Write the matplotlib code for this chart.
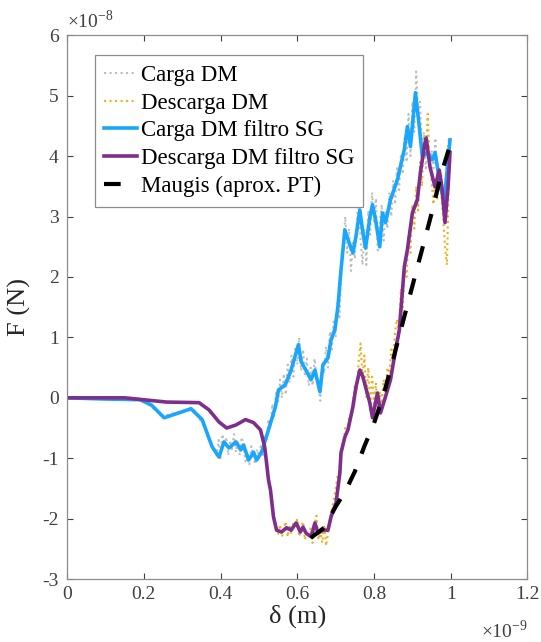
import matplotlib
matplotlib.use('Agg')
import matplotlib.pyplot as plt
import numpy as np

plt.rcParams['font.family'] = ['Liberation Serif', 'DejaVu Serif']
plt.rcParams['axes.unicode_minus'] = False
plt.rcParams['mathtext.fontset'] = 'custom'
plt.rcParams['mathtext.rm'] = 'Liberation Serif'

# delta in units of 1e-9 m, force in units of 1e-8 N
carga_sg_x = [0.0, 0.10, 0.19, 0.22, 0.253, 0.30, 0.323, 0.352, 0.378, 0.396, 0.409, 0.422, 0.44,
              0.453, 0.46, 0.473, 0.486, 0.494, 0.507, 0.525, 0.543, 0.551, 0.569, 0.584, 0.603,
              0.610, 0.636, 0.646, 0.659, 0.667, 0.680, 0.688, 0.698, 0.706, 0.714, 0.724, 0.732,
              0.745, 0.753, 0.763, 0.771, 0.778, 0.789, 0.796, 0.804, 0.815, 0.822, 0.830, 0.843,
              0.861, 0.879, 0.887, 0.895, 0.908, 0.918, 0.926, 0.939, 0.952, 0.959, 0.972, 0.983,
              0.990, 0.998]
carga_sg_y = [0.0, -0.02, -0.03, -0.12, -0.33, -0.23, -0.18, -0.36, -0.81, -0.98, -0.73, -0.83, -0.73,
              -0.86, -0.78, -1.03, -0.90, -1.03, -0.90, -0.53, -0.15, 0.13, 0.22, 0.46, 0.88,
              0.60, 0.30, 0.46, 0.10, 0.55, 0.66, 0.96, 1.13, 1.51, 2.12, 2.78, 2.62,
              2.40, 2.67, 3.11, 2.73, 2.48, 2.98, 3.20, 2.95, 2.50, 3.06, 2.90, 3.28,
              3.61, 4.11, 4.49, 4.16, 5.05, 4.49, 3.99, 4.06, 3.94, 4.06, 3.56, 3.23,
              3.72, 4.27]

descarga_sg_x = [0.0, 0.15, 0.259, 0.344, 0.370, 0.396, 0.416, 0.44, 0.465, 0.486, 0.504, 0.515,
                 0.52, 0.525, 0.530, 0.538, 0.546, 0.559, 0.572, 0.584, 0.597, 0.608, 0.615, 0.623,
                 0.636, 0.646, 0.654, 0.667, 0.680, 0.688, 0.701, 0.711, 0.714, 0.724, 0.732,
                 0.745, 0.753, 0.763, 0.771, 0.778, 0.789, 0.796, 0.809, 0.817, 0.830, 0.843,
                 0.856, 0.866, 0.879, 0.887, 0.900, 0.913, 0.921, 0.931, 0.936, 0.946, 0.959,
                 0.970, 0.977, 0.985, 0.993, 0.998]
descarga_sg_y = [0.0, 0.0, -0.07, -0.08, -0.20, -0.40, -0.50, -0.45, -0.36, -0.41, -0.53, -0.81,
                 -1.08, -1.36, -1.52, -1.97, -2.19, -2.22, -2.15, -2.19, -2.07, -2.22, -2.14, -2.24,
                 -2.30, -2.07, -2.24, -2.19, -2.19, -1.97, -1.74, -1.24, -0.91, -0.65, -0.53,
                 -0.15, 0.18, 0.46, 0.35, 0.18, -0.08, -0.33, 0.08, -0.25, 0.02, 0.30,
                 0.79, 1.12, 2.17, 2.45, 3.06, 3.28, 3.73, 4.16, 4.30, 3.82, 3.49,
                 3.77, 3.49, 2.90, 3.49, 4.06]

carga_raw_x = [0.0, 0.10, 0.20, 0.25, 0.30, 0.33, 0.36, 0.38, 0.39, 0.395, 0.40, 0.405, 0.41, 0.415,
               0.42, 0.425, 0.43, 0.435, 0.44, 0.445, 0.45, 0.455, 0.46, 0.465, 0.47, 0.475, 0.48,
               0.485, 0.49, 0.495, 0.50, 0.505, 0.51, 0.515, 0.52, 0.525, 0.53, 0.535, 0.54, 0.545,
               0.55, 0.555, 0.56, 0.565, 0.57, 0.575, 0.58, 0.585, 0.59, 0.595, 0.60, 0.605, 0.61,
               0.615, 0.62, 0.625, 0.63, 0.635, 0.64, 0.645, 0.65, 0.655, 0.66, 0.665, 0.67, 0.675,
               0.68, 0.685, 0.69, 0.695, 0.70, 0.705, 0.71, 0.715, 0.72, 0.725, 0.73, 0.735, 0.74,
               0.745, 0.75, 0.755, 0.76, 0.765, 0.77, 0.775, 0.78, 0.785, 0.79, 0.795, 0.80, 0.805,
               0.81, 0.815, 0.82, 0.825, 0.83, 0.835, 0.84, 0.845, 0.85, 0.855, 0.86, 0.865, 0.87,
               0.875, 0.88, 0.885, 0.89, 0.895, 0.90, 0.905, 0.91, 0.915, 0.92, 0.925, 0.93, 0.935,
               0.94, 0.945, 0.95, 0.955, 0.96, 0.965, 0.97, 0.975, 0.98, 0.985, 0.99, 0.995, 1.0]
carga_raw_y = [0.0, -0.02, -0.05, -0.30, -0.22, -0.20, -0.50, -0.85, -0.95, -0.70, -1.00, -0.60, -0.80, -0.65,
               -0.95, -0.70, -0.85, -0.60, -0.90, -0.70, -0.95, -0.65, -0.80, -1.05, -0.90, -1.10, -0.80,
               -0.95, -1.10, -0.85, -1.00, -0.80, -0.95, -0.65, -0.70, -0.35, -0.50, -0.10, -0.30, 0.10,
               -0.10, 0.30, 0.00, 0.40, 0.05, 0.55, 0.25, 0.70, 0.35, 0.85, 0.55, 1.00, 0.45,
               0.80, 0.35, 0.65, 0.20, 0.50, 0.20, 0.65, 0.35, 0.20, -0.05, 0.55, 0.40, 0.85,
               0.50, 1.10, 0.80, 1.30, 1.00, 1.60, 1.30, 2.20, 2.50, 3.00, 2.40, 2.80, 2.10,
               2.60, 2.30, 2.90, 3.30, 2.60, 2.20, 2.80, 2.20, 3.10, 2.70, 3.40, 2.90, 3.30,
               2.40, 2.90, 3.20, 2.60, 3.10, 2.80, 3.40, 3.00, 3.60, 3.20, 3.80, 3.40, 4.00,
               3.70, 4.30, 3.90, 4.70, 4.00, 4.90, 4.40, 5.40, 4.70, 4.90, 4.00, 4.40, 3.80,
               4.20, 3.90, 4.10, 3.80, 4.30, 3.70, 3.40, 3.70, 3.10, 3.50, 3.90, 4.30, 4.20]

descarga_raw_x = [0.0, 0.15, 0.259, 0.344, 0.370, 0.396, 0.416, 0.44, 0.465, 0.486, 0.504, 0.515,
                  0.525, 0.53, 0.54, 0.545, 0.55, 0.555, 0.56, 0.565, 0.57, 0.575, 0.58, 0.585, 0.59,
                  0.595, 0.60, 0.605, 0.61, 0.615, 0.62, 0.625, 0.63, 0.635, 0.64, 0.645, 0.65, 0.655,
                  0.66, 0.665, 0.67, 0.675, 0.68, 0.685, 0.69, 0.695, 0.70, 0.705, 0.71, 0.715, 0.72,
                  0.725, 0.73, 0.735, 0.74, 0.745, 0.75, 0.755, 0.76, 0.765, 0.77, 0.775, 0.78, 0.785,
                  0.79, 0.795, 0.80, 0.805, 0.81, 0.815, 0.82, 0.825, 0.83, 0.835, 0.84, 0.845, 0.85,
                  0.855, 0.86, 0.865, 0.87, 0.875, 0.88, 0.885, 0.89, 0.895, 0.90, 0.905, 0.91, 0.915,
                  0.92, 0.925, 0.93, 0.935, 0.94, 0.945, 0.95, 0.955, 0.96, 0.965, 0.97, 0.975, 0.98,
                  0.985, 0.99, 0.995, 1.0]
descarga_raw_y = [0.0, 0.0, -0.07, -0.08, -0.20, -0.40, -0.50, -0.45, -0.36, -0.41, -0.53, -0.81,
                  -1.36, -1.50, -2.00, -2.15, -2.25, -2.10, -2.30, -2.15, -2.05, -2.30, -2.10, -2.25, -2.05,
                  -2.15, -2.00, -2.30, -2.15, -2.05, -2.35, -2.20, -2.30, -2.15, -2.40, -2.10, -1.95, -2.35,
                  -2.20, -2.40, -2.10, -2.45, -2.25, -2.00, -1.85, -1.70, -1.50, -1.30, -1.20, -0.80, -0.75,
                  -0.50, -0.60, -0.30, -0.35, -0.05, 0.20, 0.10, 0.60, 0.90, 0.30, 0.70, 0.00, 0.50,
                  -0.20, 0.35, -0.10, 0.25, -0.30, 0.10, -0.10, 0.30, 0.10, 0.50, 0.40, 0.80, 0.70,
                  1.10, 1.30, 1.00, 1.80, 1.50, 2.20, 2.00, 2.70, 2.40, 3.20, 2.80, 3.50, 3.10,
                  3.90, 3.50, 4.30, 4.00, 4.70, 3.90, 3.60, 3.20, 3.60, 3.30, 3.80, 3.40, 3.00,
                  2.50, 2.20, 3.60, 4.00]

maugis_x = [0.635, 0.67, 0.70, 0.725, 0.75, 0.775, 0.80, 0.825, 0.85, 0.875, 0.90, 0.925, 0.95, 0.975, 1.0]
maugis_y = [-2.32, -2.15, -1.80, -1.55, -1.22, -0.80, -0.42, 0.05, 0.64, 1.25, 1.85, 2.45, 3.05, 3.70, 4.22]

fig = plt.figure(figsize=(5.41, 6.42), dpi=100)
ax = fig.add_axes([0.124, 0.098, 0.851, 0.847])

ax.plot(carga_raw_x, carga_raw_y, ':', color='#bdbdbd', lw=1.5, label='Carga DM')
ax.plot(descarga_raw_x, descarga_raw_y, ':', color='#EDB120', lw=1.5, label='Descarga DM')
ax.plot(carga_sg_x, carga_sg_y, '-', color='#1AA6FA', lw=2.6, label='Carga DM filtro SG')
ax.plot(descarga_sg_x, descarga_sg_y, '-', color='#7E2F8E', lw=2.6, label='Descarga DM filtro SG')
ax.plot(maugis_x, maugis_y, '--', color='black', lw=3.0, dashes=(4, 4), label='Maugis (aprox. PT)')

ax.set_xlim(0, 1.2)
ax.set_ylim(-3, 6)
ax.set_xticks([0, 0.2, 0.4, 0.6, 0.8, 1.0, 1.2])
ax.set_xticklabels(['0', '0.2', '0.4', '0.6', '0.8', '1', '1.2'])
ax.set_yticks(range(-3, 7))
ax.tick_params(direction='in', top=True, right=True, labelsize=14, colors='#404040',
               length=4, width=0.8)
ax.tick_params(axis='y', pad=6)
ax.tick_params(axis='x', pad=5)
for sp in ax.spines.values():
    sp.set_color('#8c8c8c')
    sp.set_linewidth(0.9)

ax.set_xlabel('δ (m)', fontsize=19, color='#262626', labelpad=1)
ax.set_ylabel('F (N)', fontsize=19, color='#262626', labelpad=8)
ax.text(0.0, 1.006, r'$\times10^{-8}$', transform=ax.transAxes, fontsize=14,
        color='#404040', ha='left', va='bottom')
ax.text(1.0, -0.075, r'$\times10^{-9}$', transform=ax.transAxes, fontsize=14,
        color='#404040', ha='right', va='top')

leg = ax.legend(loc='upper left', bbox_to_anchor=(0.06, 0.963), borderaxespad=0,
                fontsize=16.5, handlelength=1.45, handletextpad=0.15, labelspacing=0.3,
                borderpad=0.4, fancybox=False, framealpha=1)
leg.get_frame().set_edgecolor('#8c8c8c')
leg.get_frame().set_linewidth(0.9)

fig.savefig('out.png', dpi=100)
